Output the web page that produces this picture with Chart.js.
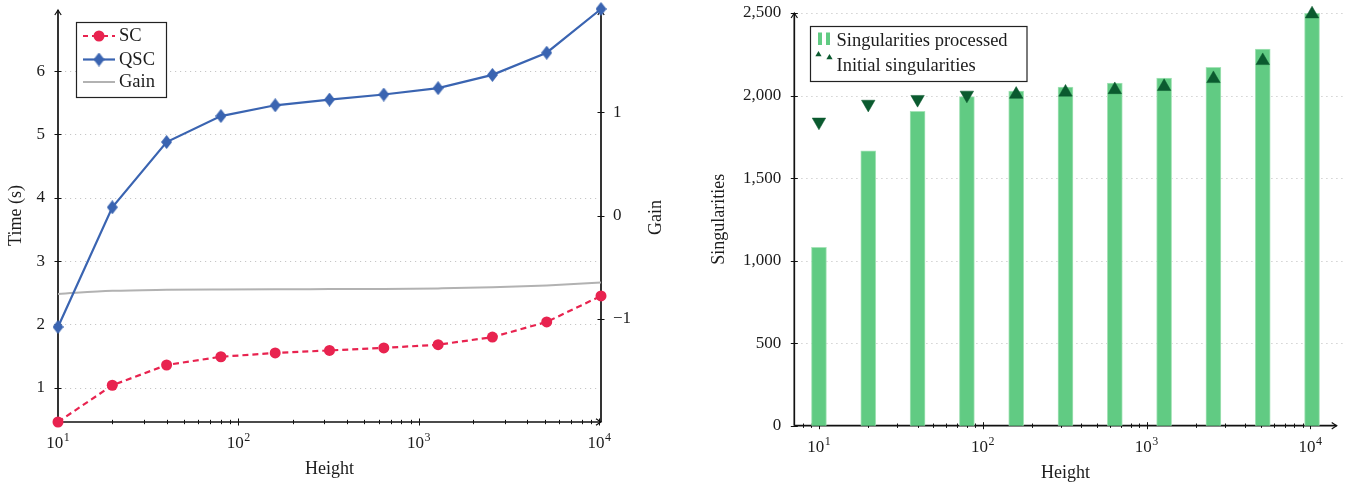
<!DOCTYPE html>
<html>
<head>
<meta charset="utf-8">
<script src="https://cdn.jsdelivr.net/npm/chart.js@4.4.1/dist/chart.umd.min.js"></script>
<style>
  html, body { margin: 0; padding: 0; background: #fff; }
  #wrap { position: relative; width: 1345px; height: 487px; overflow: hidden; }
  .panel { position: absolute; top: 0; height: 487px; }
  #left { left: 0; width: 672px; }
  #right { left: 672px; width: 673px; }
  canvas { display: block; }
</style>
</head>
<body>
<div id="wrap">
  <div class="panel" id="left"><canvas id="timeChart" width="672" height="487"></canvas></div>
  <div class="panel" id="right"><canvas id="singChart" width="673" height="487"></canvas></div>
</div>
<script>
// ---- data ----
const heights = [10, 20, 40, 80, 160, 320, 640, 1280, 2560, 5120, 10240];
const scTime = [0.46, 1.04, 1.36, 1.49, 1.55, 1.59, 1.63, 1.68, 1.80, 2.04, 2.45];
const qscTime = [1.96, 3.85, 4.88, 5.29, 5.46, 5.55, 5.63, 5.73, 5.94, 6.29, 6.98];
const gain = [-0.76, -0.73, -0.72, -0.716, -0.714, -0.713, -0.712, -0.706, -0.696, -0.677, -0.65];
const processed = [1080, 1665, 1905, 1993, 2027, 2052, 2076, 2106, 2171, 2282, 2498];
const initial = [1840, 1948, 1977, 2003, 2007, 2020, 2035, 2054, 2102, 2211, 2494];

const heightTicks = [10, 100, 1000, 10000];
const timeTicks = [1, 2, 3, 4, 5, 6];
const gainTicks = [-1, 0, 1];
const singTicks = [0, 500, 1000, 1500, 2000, 2500];

// ---- look ----
const FONT = '"Liberation Serif", "Times New Roman", serif';
const INK = '#1c1c1c';
const RED = '#e8234f';
const BLUE = '#3a64b1';
const GREY = '#b2b2b2';
const BAR = '#61cb83';
const BAR_EDGE = '#a6e3b8';
const DARK = '#0b5a2f';

Chart.defaults.font.family = FONT;
Chart.defaults.font.size = 18;
Chart.defaults.color = INK;
Chart.defaults.animation = false;

const minusLabel = v => (v < 0 ? '\u2212' + Math.abs(v) : String(v));
const setTicks = list => s => { s.ticks = list.map(value => ({ value })); };
const noPadY = w => s => { s.width = w; s.paddingTop = 0; s.paddingBottom = 0; };
const noPadX = h => s => { s.height = h; s.paddingLeft = 0; s.paddingRight = 0; };

// diamond marker for QSC
function diamond(w, h, color) {
  const c = document.createElement('canvas');
  c.width = w; c.height = h;
  const g = c.getContext('2d');
  g.fillStyle = color;
  g.beginPath();
  g.moveTo(w / 2, 0); g.lineTo(w, h / 2); g.lineTo(w / 2, h); g.lineTo(0, h / 2);
  g.closePath(); g.fill();
  return c;
}
const diamondMark = diamond(11, 14, BLUE);

// ---- shared drawing helpers ----
function arrowHead(ctx, x, y, dir) {
  ctx.save();
  ctx.translate(x, y);
  ctx.rotate(dir);
  ctx.beginPath();
  ctx.moveTo(-5, -3.2); ctx.quadraticCurveTo(-1.5, -0.8, 0, 0); ctx.quadraticCurveTo(-1.5, 0.8, -5, 3.2);
  ctx.stroke();
  ctx.restore();
}
function dottedRows(ctx, scale, values, x0, x1) {
  ctx.save();
  ctx.strokeStyle = '#c6c6c6';
  ctx.lineWidth = 1;
  ctx.setLineDash([1.2, 3.8]);
  values.forEach(v => {
    const y = Math.round(scale.getPixelForValue(v)) + 0.5;
    ctx.beginPath(); ctx.moveTo(x0, y); ctx.lineTo(x1, y); ctx.stroke();
  });
  ctx.restore();
}
function crossTicksY(ctx, scale, values, x, len) {
  values.forEach(v => {
    const y = Math.round(scale.getPixelForValue(v)) + 0.5;
    ctx.beginPath(); ctx.moveTo(x - len, y); ctx.lineTo(x + len, y); ctx.stroke();
  });
}
function logTicksX(ctx, scale, y, major, minor) {
  const lo = Math.floor(Math.log10(scale.min)), hi = Math.ceil(Math.log10(scale.max));
  for (let e = lo; e <= hi; e++) {
    for (let m = 1; m <= 9; m++) {
      const v = m * Math.pow(10, e);
      if (v < scale.min * 0.9999 || v > scale.max * 1.0001) continue;
      const x = Math.round(scale.getPixelForValue(v)) + 0.5;
      const len = m === 1 ? major : minor;
      ctx.beginPath(); ctx.moveTo(x, y - len); ctx.lineTo(x, y + len); ctx.stroke();
    }
  }
}
// decade labels "10" with a raised exponent
function powerLabels(ctx, scale, values, baseline) {
  ctx.save();
  ctx.fillStyle = INK;
  ctx.textBaseline = 'alphabetic';
  ctx.textAlign = 'left';
  values.forEach(v => {
    const exp = String(Math.round(Math.log10(v)));
    ctx.font = '17px ' + FONT;
    const wBase = ctx.measureText('10').width;
    ctx.font = '12px ' + FONT;
    const wExp = ctx.measureText(exp).width;
    const x0 = scale.getPixelForValue(v) - (wBase + wExp + 0.5) / 2;
    ctx.font = '17px ' + FONT;
    ctx.fillText('10', x0, baseline);
    ctx.font = '12px ' + FONT;
    ctx.fillText(exp, x0 + wBase + 0.5, baseline - 7);
  });
  ctx.restore();
}

// ---- left: running time ----
const timeFrame = {
  id: 'timeFrame',
  beforeDatasetsDraw(chart) {
    const { ctx, chartArea: a, scales } = chart;
    dottedRows(ctx, scales.y, timeTicks, a.left + 2, a.right - 2);
    ctx.save();
    ctx.strokeStyle = '#111';
    ctx.lineWidth = 1.7;
    ctx.beginPath();
    ctx.moveTo(a.left, a.bottom); ctx.lineTo(a.left, a.top + 1);
    ctx.moveTo(a.left, a.bottom); ctx.lineTo(a.right, a.bottom);
    ctx.moveTo(a.right, a.bottom); ctx.lineTo(a.right, a.top + 1);
    ctx.stroke();
    ctx.lineWidth = 1.2;
    arrowHead(ctx, a.left, a.top + 1, -Math.PI / 2);
    arrowHead(ctx, a.right, a.top + 1, -Math.PI / 2);
    arrowHead(ctx, a.right, a.bottom, 0);
    ctx.lineWidth = 1;
    crossTicksY(ctx, scales.y, timeTicks, a.left, 3.5);
    crossTicksY(ctx, scales.y2, gainTicks, a.right, 3.5);
    logTicksX(ctx, scales.x, a.bottom, 3.5, 2.2);
    ctx.restore();
    powerLabels(ctx, scales.x, heightTicks, a.bottom + 25.5);
  },
  afterDatasetsDraw(chart) {
    const { ctx, chartArea: a, data } = chart;
    ctx.save();
    // right-hand axis title, read bottom to top
    ctx.fillStyle = INK;
    ctx.font = '18px ' + FONT;
    ctx.textAlign = 'center';
    ctx.textBaseline = 'middle';
    ctx.translate(656, (a.top + a.bottom) / 2 + 2);
    ctx.rotate(-Math.PI / 2);
    ctx.fillText('Gain', 0, 0);
    ctx.restore();

    // legend
    ctx.save();
    ctx.fillStyle = '#fff';
    ctx.fillRect(76.5, 22.5, 90, 75);
    ctx.strokeStyle = '#222';
    ctx.lineWidth = 1.2;
    ctx.strokeRect(76.5, 22.5, 90, 75);
    const rows = [36, 59.5, 82];
    data.datasets.forEach((ds, i) => {
      const y = rows[i];
      ctx.strokeStyle = ds.borderColor;
      ctx.lineWidth = ds.borderWidth;
      ctx.setLineDash(ds.borderDash || []);
      ctx.lineDashOffset = ds.borderDash ? 1 : 0;
      ctx.beginPath(); ctx.moveTo(83, y); ctx.lineTo(115, y); ctx.stroke();
      ctx.setLineDash([]);
      if (ds.pointRadius > 0) {
        if (ds.pointStyle === 'circle') {
          ctx.fillStyle = ds.pointBackgroundColor;
          ctx.beginPath(); ctx.arc(99, y, ds.pointRadius, 0, Math.PI * 2); ctx.fill();
        } else {
          const img = ds.pointStyle;
          ctx.drawImage(img, 99 - img.width / 2, y - img.height / 2);
        }
      }
      ctx.fillStyle = INK;
      ctx.font = '18.5px ' + FONT;
      ctx.textAlign = 'left';
      ctx.textBaseline = 'middle';
      ctx.fillText(ds.label, 119, y + 0.5);
    });
    ctx.restore();
  }
};

new Chart(document.getElementById('timeChart'), {
  type: 'line',
  data: {
    datasets: [
      {
        label: 'SC',
        data: heights.map((h, i) => ({ x: h, y: scTime[i] })),
        yAxisID: 'y',
        borderColor: RED, borderWidth: 2.2, borderDash: [6, 4],
        pointStyle: 'circle', pointRadius: 5.5, pointBackgroundColor: RED, pointBorderWidth: 0,
        clip: false, order: 1
      },
      {
        label: 'QSC',
        data: heights.map((h, i) => ({ x: h, y: qscTime[i] })),
        yAxisID: 'y',
        borderColor: BLUE, borderWidth: 2.2,
        pointStyle: diamondMark, pointRadius: 6, pointBackgroundColor: BLUE, pointBorderWidth: 0,
        clip: false, order: 0
      },
      {
        label: 'Gain',
        data: heights.map((h, i) => ({ x: h, y: gain[i] })),
        yAxisID: 'y2',
        borderColor: GREY, borderWidth: 2, pointRadius: 0,
        cubicInterpolationMode: 'monotone',
        clip: false, order: 2
      }
    ]
  },
  options: {
    responsive: false,
    events: [],
    layout: { padding: { top: 9, left: 0, right: 0, bottom: 0 } },
    plugins: { legend: { display: false }, tooltip: { enabled: false } },
    scales: {
      x: {
        type: 'logarithmic',
        min: heights[0], max: heights[heights.length - 1],
        afterBuildTicks: setTicks(heightTicks),
        afterFit: noPadX(65),
        grid: { display: false, drawTicks: false },
        border: { display: false },
        ticks: { display: false },
        title: { display: true, text: 'Height', padding: { top: 0, bottom: 7 } }
      },
      y: {
        type: 'linear', position: 'left',
        min: Math.min(...scTime), max: Math.max(...qscTime),
        afterBuildTicks: setTicks(timeTicks),
        afterFit: noPadY(58),
        grid: { display: false, drawTicks: false },
        border: { display: false },
        ticks: { padding: 13, font: { size: 17 } },
        title: { display: true, text: 'Time (s)', padding: { top: 5, bottom: 0 } }
      },
      y2: {
        type: 'linear', position: 'right',
        min: -2, max: 2,
        afterBuildTicks: setTicks(gainTicks),
        afterFit: noPadY(71),
        grid: { display: false, drawTicks: false },
        border: { display: false },
        ticks: { padding: 12, font: { size: 17 }, callback: v => minusLabel(v) }
      }
    }
  },
  plugins: [timeFrame]
});

// ---- right: singularities ----
const OFFX = 672;
const singFrame = {
  id: 'singFrame',
  beforeDatasetsDraw(chart) {
    const { ctx, chartArea: a, scales } = chart;
    dottedRows(ctx, scales.y, singTicks.slice(1), a.left + 2, a.right + 8);
    ctx.save();
    ctx.strokeStyle = '#111';
    ctx.lineWidth = 1.7;
    ctx.beginPath();
    ctx.moveTo(a.left, a.bottom); ctx.lineTo(a.left, a.top);
    ctx.moveTo(a.left, a.bottom); ctx.lineTo(a.right, a.bottom);
    ctx.stroke();
    ctx.lineWidth = 1.2;
    arrowHead(ctx, a.left, a.top, -Math.PI / 2);
    arrowHead(ctx, a.right, a.bottom, 0);
    ctx.lineWidth = 1;
    crossTicksY(ctx, scales.y, singTicks, a.left, 3.5);
    logTicksX(ctx, scales.x, a.bottom, 3.5, 2.2);
    ctx.restore();
    powerLabels(ctx, scales.x, heightTicks, a.bottom + 26);
  },
  afterDatasetsDraw(chart) {
    const { ctx } = chart;
    const L = x => x - OFFX;
    ctx.save();
    ctx.fillStyle = '#fff';
    ctx.fillRect(L(810.5), 26.5, 216.5, 55);
    ctx.strokeStyle = '#222';
    ctx.lineWidth = 1.2;
    ctx.strokeRect(L(810.5), 26.5, 216.5, 55);
    // bar sample
    ctx.fillStyle = BAR;
    ctx.fillRect(L(818), 32.5, 4, 12.5);
    ctx.fillRect(L(826), 32.5, 4, 12.5);
    // marker sample
    ctx.fillStyle = DARK;
    const tri = (cx, cy, r) => {
      ctx.beginPath();
      ctx.moveTo(cx, cy - r);
      ctx.lineTo(cx + r * 0.866, cy + r / 2);
      ctx.lineTo(cx - r * 0.866, cy + r / 2);
      ctx.closePath(); ctx.fill();
    };
    tri(L(818.5), 54.5, 3.6);
    tri(L(829.5), 57.5, 3.6);
    ctx.fillStyle = INK;
    ctx.font = '18.5px ' + FONT;
    ctx.textAlign = 'left';
    ctx.textBaseline = 'middle';
    ctx.fillText(chart.data.datasets[1].label, L(836.5), 41.5);
    ctx.fillText(chart.data.datasets[0].label, L(836.5), 66);
    ctx.restore();
  }
};

const logLo = Math.log10(heights[0]);
const logHi = Math.log10(heights[heights.length - 1]);
const logPad = 0.05 * (logHi - logLo);

new Chart(document.getElementById('singChart'), {
  type: 'bar',
  data: {
    datasets: [
      {
        type: 'line',
        label: 'Initial singularities',
        data: heights.map((h, i) => ({ x: h, y: initial[i] })),
        showLine: false,
        pointStyle: 'triangle',
        pointRadius: 7.8,
        pointRotation: initial.map((v, i) => (processed[i] < v ? 180 : 0)),
        pointBackgroundColor: DARK, pointBorderColor: DARK, pointBorderWidth: 0.5,
        clip: false, order: 0
      },
      {
        label: 'Singularities processed',
        data: heights.map((h, i) => ({ x: h, y: processed[i] })),
        backgroundColor: BAR,
        borderColor: BAR_EDGE,
        borderWidth: { left: 1, right: 1, top: 1, bottom: 0 },
        barThickness: 15,
        clip: false, order: 1
      }
    ]
  },
  options: {
    responsive: false,
    events: [],
    layout: { padding: { top: 13, left: 0, right: 0, bottom: 0 } },
    plugins: { legend: { display: false }, tooltip: { enabled: false } },
    scales: {
      x: {
        type: 'logarithmic',
        offset: false,
        min: Math.pow(10, logLo - logPad), max: Math.pow(10, logHi + logPad),
        afterBuildTicks: setTicks(heightTicks),
        afterFit: noPadX(61.3),
        grid: { display: false, drawTicks: false, offset: false },
        border: { display: false },
        ticks: { display: false },
        title: { display: true, text: 'Height', padding: { top: 0, bottom: 3 } }
      },
      y: {
        type: 'linear', position: 'left',
        min: 0, max: 2500,
        afterBuildTicks: setTicks(singTicks),
        afterFit: noPadY(122.3),
        grid: { display: false, drawTicks: false },
        border: { display: false },
        ticks: { padding: 13, font: { size: 17 }, callback: v => v.toLocaleString('en-US') },
        title: { display: true, text: 'Singularities', padding: { top: 36, bottom: 0 } }
      }
    }
  },
  plugins: [singFrame]
});
</script>
</body>
</html>
